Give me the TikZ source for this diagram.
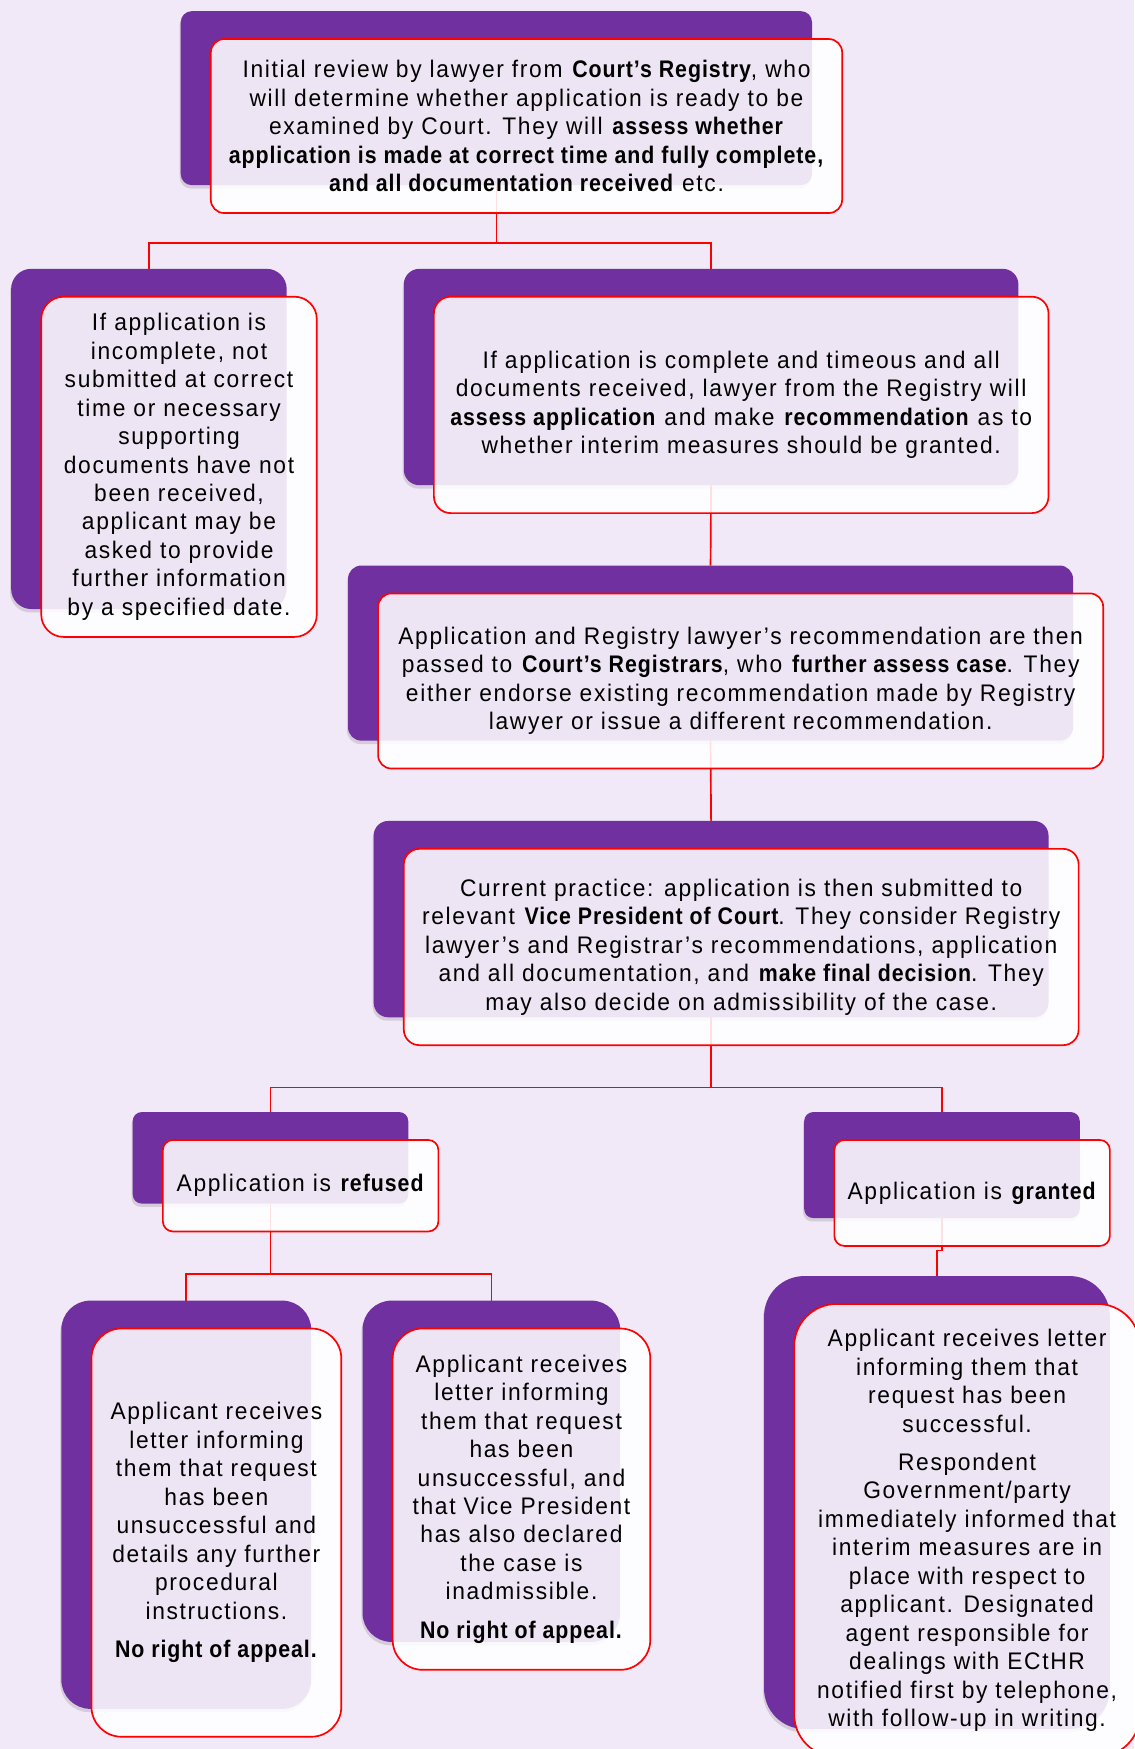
\documentclass[tikz,border=0pt]{standalone}
\usepackage{fontspec}
\setmainfont[FakeStretch=0.95,LetterSpace=7,
  BoldFeatures={FakeStretch=0.89,LetterSpace=4}]{Liberation Sans}
\usetikzlibrary{shadows}
\definecolor{paper}{RGB}{241,232,248}
\definecolor{plum}{RGB}{112,48,160}
\definecolor{edgered}{RGB}{255,0,0}
\pgfdeclarelayer{paperlayer}
\pgfdeclarelayer{wires}
\pgfsetlayers{paperlayer,wires,main}

\begin{document}
\begin{tikzpicture}[x=1pt,y=-1pt]
        \tikzstyle{back}=[rectangle,fill=plum,inner sep=0pt,outer sep=0pt,
          drop shadow={opacity=0.25,shadow xshift=-1pt,shadow yshift=-3pt}]
        \tikzstyle{front}=[rectangle,draw=edgered,line width=1.5pt,fill=white,
          fill opacity=0.88,text opacity=1,inner sep=0pt,outer sep=0pt,
          align=center,font=\fontsize{21.5}{25.5}\selectfont]
        \tikzstyle{wire}=[draw=edgered,line width=1.5pt]

        \useasboundingbox (0,0) rectangle (1017,1568);
        \begin{pgfonlayer}{paperlayer}
          \fill[paper] (0,0) rectangle (1017,1568);
        \end{pgfonlayer}

        % first check by the registry
        \node[back,minimum width=566,minimum height=156,rounded corners=10] (initbg) at (445,88) {};
        \node[front,minimum width=566,minimum height=156,rounded corners=12] (init) at (472,113)
          {Initial review by lawyer from \textbf{Court’s Registry}, who\\
           will determine whether application is ready to be\\
           examined by Court. They will \textbf{assess whether}\\
           \textbf{application is made at correct time and fully complete,}\\
           \textbf{and all documentation received} etc.};

        % incomplete / complete
        \node[back,minimum width=247,minimum height=305,rounded corners=18] (incomplbg) at (133.5,393.5) {};
        \node[front,minimum width=247,minimum height=305,rounded corners=20] (incompl) at (160.5,418.5)
          {If application is\\ incomplete, not\\ submitted at correct\\ time or necessary\\ supporting\\
           documents have not\\ been received,\\ applicant may be\\ asked to provide\\
           further information\\ by a specified date.};

        \node[back,minimum width=551,minimum height=194,rounded corners=14] (assessbg) at (637.5,338) {};
        \node[front,minimum width=551,minimum height=194,rounded corners=15] (assess) at (664.5,363)
          {If application is complete and timeous and all\\
           documents received, lawyer from the Registry will\\
           \textbf{assess application} and make \textbf{recommendation} as to\\
           whether interim measures should be granted.};

        \node[back,minimum width=650,minimum height=157,rounded corners=12] (registrarsbg) at (637,585.5) {};
        \node[front,minimum width=650,minimum height=157,rounded corners=12] (registrars) at (664,610.5)
          {Application and Registry lawyer’s recommendation are then\\
           passed to \textbf{Court’s Registrars}, who \textbf{further assess case}. They\\
           either endorse existing recommendation made by Registry\\
           lawyer or issue a different recommendation.};

        \node[back,minimum width=605,minimum height=176,rounded corners=13] (vicepresbg) at (637.5,824) {};
        \node[front,minimum width=605,minimum height=176,rounded corners=14] (vicepres) at (664.5,849)
          {Current practice: application is then submitted to\\
           relevant \textbf{Vice President of Court}. They consider Registry\\
           lawyer’s and Registrar's recommendations, application\\
           and all documentation, and \textbf{make final decision}. They\\
           may also decide on admissibility of the case.};

        % decision
        \node[back,minimum width=247,minimum height=82,rounded corners=8] (refusedbg) at (242.5,1038) {};
        \node[front,minimum width=247,minimum height=82,rounded corners=9] (refused) at (269.5,1063)
          {Application is \textbf{refused}};

        \node[back,minimum width=247,minimum height=95,rounded corners=8] (grantedbg) at (844.5,1044.5) {};
        \node[front,minimum width=247,minimum height=95,rounded corners=9] (granted) at (871.5,1069.5)
          {Application is \textbf{granted}};

        % outcomes
        \node[back,minimum width=224,minimum height=366,rounded corners=26] (reflettbg) at (167,1349) {};
        \node[front,minimum width=224,minimum height=366,rounded corners=27] (reflett) at (194,1374)
          {Applicant receives\\ letter informing\\ them that request\\ has been\\ unsuccessful and\\
           details any further\\ procedural\\ instructions.\\[9pt] \textbf{No right of appeal.}};

        \node[back,minimum width=231,minimum height=306,rounded corners=26] (inadmbg) at (440.5,1319) {};
        \node[front,minimum width=231,minimum height=306,rounded corners=27] (inadm) at (467.5,1344)
          {Applicant receives\\ letter informing\\ them that request\\ has been\\ unsuccessful, and\\
           that Vice President\\ has also declared\\ the case is\\ inadmissible.\\[9pt] \textbf{No right of appeal.}};

        \node[back,minimum width=310,minimum height=406,rounded corners=36] (grantlettbg) at (840,1347) {};
        \node[front,minimum width=310,minimum height=406,rounded corners=38] (grantlett) at (867,1372)
          {Applicant receives letter\\ informing them that\\ request has been\\ successful.\\[9pt]
           Respondent\\ Government/party\\ immediately informed that\\ interim measures are in\\
           place with respect to\\ applicant. Designated\\ agent responsible for\\
           dealings with ECtHR\\ notified first by telephone,\\ with follow-up in writing.};

        % connectors, behind the boxes
        \begin{pgfonlayer}{wires}
          \foreach \b in {incomplbg,assessbg}
            \draw[wire] (initbg.south) -- ++(0,52) -| (\b.north);
          \draw[wire] (assessbg.south) -- (registrarsbg.north);
          \draw[wire] (registrarsbg.south) -- (vicepresbg.north);
          \foreach \b in {refusedbg,grantedbg}
            \draw[wire] (vicepresbg.south) -- ++(0,63) -| (\b.north);
          \foreach \b in {reflettbg,inadmbg}
            \draw[wire] (refusedbg.south) -- ++(0,63) -| (\b.north);
          \draw[wire] (grantedbg.south) -- ++(0,29) -| (grantlettbg.north);
        \end{pgfonlayer}
      \end{tikzpicture}
\end{document}
